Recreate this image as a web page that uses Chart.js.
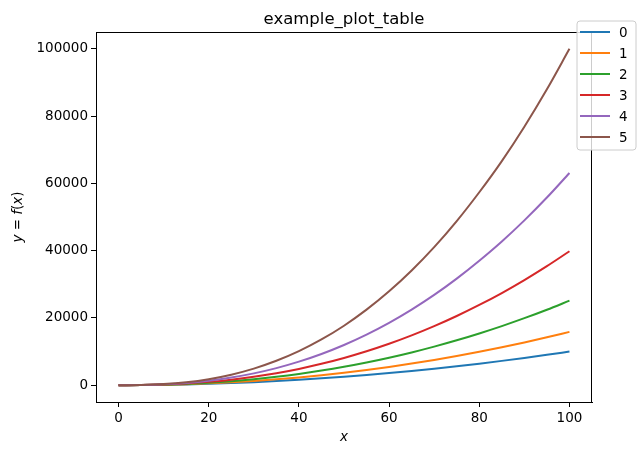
<!DOCTYPE html>
<html>
<head>
<meta charset="utf-8">
<script src="https://cdn.jsdelivr.net/npm/chart.js@4"></script>
<style>
  html, body { margin: 0; padding: 0; background: #fff; }
  canvas { display: block; }
</style>
</head>
<body>
<canvas id="plot" width="644" height="455"></canvas>
<script>
// values
const xValues = [0, 5, 10, 15, 20, 25, 30, 35, 40, 45, 50, 55, 60, 65, 70, 75, 80, 85, 90, 95, 100];
const series0 = [0, 25, 100, 225, 400, 625, 900, 1225, 1600, 2025, 2500, 3025, 3600, 4225, 4900, 5625, 6400, 7225, 8100, 9025, 10000];
const series1 = [0, 29, 126, 295, 540, 862, 1265, 1748, 2314, 2963, 3697, 4517, 5422, 6415, 7496, 8665, 9923, 11267, 12703, 14231, 15849];
const series2 = [0, 34, 158, 387, 728, 1190, 1777, 2494, 3345, 4336, 5467, 6745, 8167, 9741, 11466, 13347, 15386, 17569, 19923, 22439, 25119];
const series3 = [0, 41, 200, 507, 983, 1642, 2496, 3560, 4837, 6345, 8085, 10071, 12301, 14790, 17540, 20560, 23857, 27397, 31245, 35382, 39811];
const series4 = [0, 48, 251, 664, 1326, 2265, 3507, 5079, 6995, 9284, 11956, 15038, 18527, 22457, 26830, 31670, 36990, 42723, 49002, 55790, 63096];
const series5 = [0, 56, 316, 871, 1789, 3125, 4927, 7248, 10115, 13585, 17681, 22454, 27906, 34099, 41042, 48785, 57353, 66622, 76850, 87969, 100000];
const seriesNames = ['0', '1', '2', '3', '4', '5'];
const xTicks = [0, 20, 40, 60, 80, 100];
const yTicks = [0, 20000, 40000, 60000, 80000, 100000];

const colors = ['#1f77b4', '#ff7f0e', '#2ca02c', '#d62728', '#9467bd', '#8c564b'];
const allSeries = [series0, series1, series2, series3, series4, series5];
const FONT = '"DejaVu Sans", sans-serif';

const datasets = allSeries.map((s, i) => ({
    label: seriesNames[i],
    data: s.map((y, j) => ({ x: xValues[j], y: y })),
    borderColor: colors[i],
    backgroundColor: colors[i],
    borderWidth: 2,
    pointRadius: 0,
    cubicInterpolationMode: 'monotone',
    fill: false,
    order: allSeries.length - 1 - i
}));

// draws frame, title, axis labels and the matplotlib-like legend
const decorations = {
    id: 'decorations',
    afterDraw(chart) {
        const ctx = chart.ctx;
        const a = chart.chartArea;
        ctx.save();

        // frame
        ctx.strokeStyle = '#000';
        ctx.lineWidth = 1;
        ctx.strokeRect(Math.round(a.left) + 0.5, Math.round(a.top) + 0.5,
            Math.round(a.right - a.left) - 1, Math.round(a.bottom - a.top));

        // title
        ctx.fillStyle = '#000';
        ctx.font = '16.5px ' + FONT;
        ctx.textAlign = 'center';
        ctx.textBaseline = 'alphabetic';
        ctx.fillText('example_plot_table', (a.left + a.right) / 2, 24);

        // x label
        ctx.font = 'italic 13.5px ' + FONT;
        ctx.textBaseline = 'middle';
        ctx.fillText('x', (a.left + a.right) / 2, 437);

        // y label: y = f(x), mixing italic and upright parts
        const parts = [['y', true], [' = ', false], ['f', true], ['(', false], ['x', true], [')', false]];
        const fontOf = it => (it ? 'italic ' : '') + '13.5px ' + FONT;
        let total = 0;
        parts.forEach(p => { ctx.font = fontOf(p[1]); total += ctx.measureText(p[0]).width; });
        ctx.translate(18, (a.top + a.bottom) / 2);
        ctx.rotate(-Math.PI / 2);
        ctx.textAlign = 'left';
        let px = -total / 2;
        parts.forEach(p => {
            ctx.font = fontOf(p[1]);
            ctx.fillText(p[0], px, 0);
            px += ctx.measureText(p[0]).width;
        });
        ctx.setTransform(1, 0, 0, 1, 0, 0);

        // legend
        const bx = 577, by = 21, bw = 59, bh = 129, r = 3;
        ctx.beginPath();
        ctx.moveTo(bx + r, by);
        ctx.arcTo(bx + bw, by, bx + bw, by + bh, r);
        ctx.arcTo(bx + bw, by + bh, bx, by + bh, r);
        ctx.arcTo(bx, by + bh, bx, by, r);
        ctx.arcTo(bx, by, bx + bw, by, r);
        ctx.closePath();
        ctx.fillStyle = 'rgba(255,255,255,0.8)';
        ctx.fill();
        ctx.strokeStyle = '#cccccc';
        ctx.lineWidth = 1;
        ctx.stroke();

        ctx.font = '13.5px ' + FONT;
        ctx.textAlign = 'left';
        ctx.textBaseline = 'middle';
        chart.data.datasets.forEach((ds, i) => {
            const yy = 32 + i * 21;
            ctx.strokeStyle = ds.borderColor;
            ctx.lineWidth = 2;
            ctx.beginPath();
            ctx.moveTo(580, yy);
            ctx.lineTo(610, yy);
            ctx.stroke();
            ctx.fillStyle = '#000';
            ctx.fillText(ds.label, 619, yy + 1);
        });
        ctx.restore();
    }
};

new Chart(document.getElementById('plot'), {
    type: 'line',
    data: { datasets: datasets },
    options: {
        responsive: false,
        animation: false,
        layout: { padding: { top: 32, right: 52, left: 0, bottom: 0 } },
        plugins: {
            legend: { display: false },
            title: { display: false },
            tooltip: { enabled: false }
        },
        scales: {
            x: {
                type: 'linear',
                min: -5,
                max: 105,
                afterFit: s => { s.height = 53; },
                afterBuildTicks: s => { s.ticks = xTicks.map(v => ({ value: v })); },
                grid: { drawOnChartArea: false, drawTicks: true, tickLength: 5, color: '#000' },
                border: { display: true, color: '#000' },
                ticks: { color: '#000', font: { family: FONT, size: 13.5 }, padding: 3, maxRotation: 0 }
            },
            y: {
                type: 'linear',
                min: -5000,
                max: 105000,
                afterFit: s => { s.width = 96; },
                afterBuildTicks: s => { s.ticks = yTicks.map(v => ({ value: v })); },
                grid: { drawOnChartArea: false, drawTicks: true, tickLength: 5, color: '#000' },
                border: { display: true, color: '#000' },
                ticks: { color: '#000', font: { family: FONT, size: 13.5 }, padding: 3, callback: v => String(v) }
            }
        }
    },
    plugins: [decorations]
});
</script>
</body>
</html>
